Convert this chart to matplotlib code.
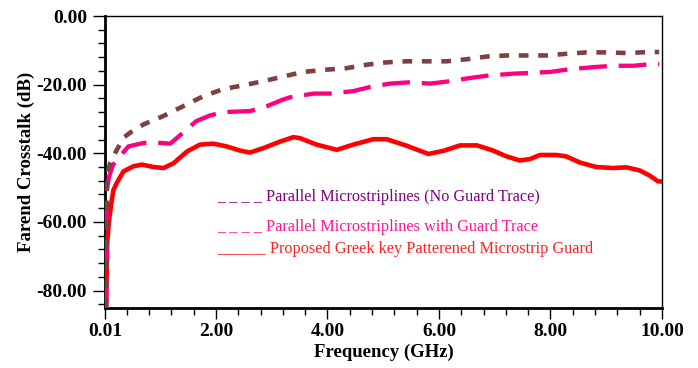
import matplotlib
matplotlib.use("Agg")
import matplotlib.pyplot as plt
from matplotlib.ticker import MultipleLocator, FixedLocator

# ---- data ----
freq_noguard = [0.03, 0.04, 0.045, 0.10, 0.16, 0.34, 0.46, 0.70, 1.05, 1.41, 1.77, 2.13, 2.49, 2.85,
                3.24, 3.57, 3.93, 4.34, 4.70, 5.06, 5.42, 5.78, 6.14, 6.50, 6.86, 7.21, 7.57,
                7.93, 8.29, 8.65, 9.01, 9.37, 9.75, 9.95]
db_noguard = [-85.0, -60.0, -47.0, -43.0, -40.9, -35.5, -34.0, -31.6, -29.2, -26.3, -23.4, -21.3, -20.2, -19.0,
              -17.5, -16.3, -15.7, -15.2, -14.2, -13.5, -13.2, -13.2, -13.2, -12.6, -11.8, -11.5, -11.5,
              -11.5, -11.0, -10.6, -10.6, -10.8, -10.5, -10.5]

freq_guard = [0.03, 0.04, 0.05, 0.08, 0.15, 0.28, 0.43, 0.70, 0.94, 1.18, 1.41, 1.65, 1.89, 2.13,
              2.61, 2.91, 3.21, 3.33, 3.75, 4.04, 4.46, 4.76, 5.12, 5.48, 5.84, 6.20, 6.50, 6.86,
              7.33, 7.63, 7.99, 8.35, 8.77, 9.13, 9.49, 9.81, 9.95]
db_guard = [-85.0, -60.0, -50.0, -47.0, -43.5, -40.9, -38.0, -37.0, -36.9, -37.2, -34.0, -30.6, -29.0, -28.0,
            -27.7, -26.3, -24.3, -23.7, -22.6, -22.6, -21.9, -20.7, -19.7, -19.3, -19.7, -19.0, -18.2, -17.4,
            -16.8, -16.6, -16.3, -15.5, -14.9, -14.5, -14.5, -14.0, -14.0]

freq_greek = [0.03, 0.04, 0.05, 0.08, 0.12, 0.16, 0.22, 0.34, 0.52, 0.67, 0.88, 1.06, 1.24, 1.48, 1.71,
              1.95, 2.19, 2.43, 2.61, 2.85, 3.15, 3.39, 3.51, 3.81, 4.17, 4.46, 4.82, 5.06, 5.42,
              5.81, 6.08, 6.38, 6.68, 6.97, 7.21, 7.45, 7.63, 7.81, 8.11, 8.28, 8.53, 8.82, 9.12,
              9.36, 9.60, 9.78, 9.93, 10.0]
db_greek = [-85.0, -75.0, -66.0, -60.0, -55.0, -50.8, -48.7, -45.3, -43.8, -43.3, -44.0, -44.3, -42.9, -39.5, -37.5,
            -37.2, -38.0, -39.2, -39.8, -38.5, -36.6, -35.3, -35.6, -37.5, -39.0, -37.5, -35.9, -35.9, -37.8,
            -40.2, -39.3, -37.7, -37.7, -39.2, -40.9, -42.1, -41.7, -40.5, -40.5, -40.9, -42.7, -44.0, -44.3,
            -44.1, -45.0, -46.5, -48.2, -48.2]

x_ticks = [0.01, 2.0, 4.0, 6.0, 8.0, 10.0]
x_ticklabels = ["0.01", "2.00", "4.00", "6.00", "8.00", "10.00"]
y_ticks = [0, -20, -40, -60, -80]
y_ticklabels = ["0.00", "-20.00", "-40.00", "-60.00", "-80.00"]

labels = ["Parallel Microstriplines (No Guard Trace)",
          "Parallel Microstriplines with Guard Trace",
          "Proposed Greek key Patterened Microstrip Guard"]

plt.rcParams['font.family'] = ['Liberation Serif', 'DejaVu Serif']
plt.rcParams['lines.scale_dashes'] = False

fig = plt.figure(figsize=(6.98, 3.68), dpi=100)
ax = fig.add_axes([0.1504, 0.1639, 0.7980, 0.7926])

ax.plot(freq_greek, db_greek, color='#FF0000', lw=3.3, solid_capstyle='butt',
        solid_joinstyle='round', zorder=3)
ax.plot(freq_guard, db_guard, color='#FF0080', lw=3.1, dashes=(20, 8.5), dash_capstyle='butt',
        dash_joinstyle='round', zorder=4)
ax.plot(freq_noguard, db_noguard, color='#7F4040', lw=3.3, dashes=(7, 7), dash_capstyle='butt',
        dash_joinstyle='round', zorder=5)

ax.set_xlim(0.01, 10.0)
ax.set_ylim(-85, 0)
ax.xaxis.set_major_locator(FixedLocator(x_ticks))
ax.set_xticklabels(x_ticklabels)
ax.xaxis.set_minor_locator(MultipleLocator(0.4))
ax.yaxis.set_major_locator(FixedLocator(y_ticks))
ax.set_yticklabels(y_ticklabels)
ax.yaxis.set_minor_locator(MultipleLocator(4))

for lab in ax.get_xticklabels() + ax.get_yticklabels():
    lab.set_fontweight('bold')
    lab.set_fontsize(14)

ax.tick_params(axis='y', which='major', direction='out', length=9, width=1, pad=4)
ax.tick_params(axis='y', which='minor', direction='out', length=5, width=1)
ax.tick_params(axis='x', which='major', direction='out', length=8, width=1, pad=3)
ax.tick_params(axis='x', which='minor', direction='out', length=5, width=1)

ax.spines['left'].set_linewidth(2)
ax.spines['bottom'].set_linewidth(2)
ax.spines['top'].set_linewidth(1)
ax.spines['right'].set_linewidth(1)

ax.set_xlabel("Frequency (GHz)", fontsize=13.5, fontweight='bold')
ax.set_ylabel("Farend Crosstalk (dB)", fontsize=13.5, fontweight='bold')
ax.xaxis.set_label_coords(0.5, -0.125)
ax.yaxis.set_label_coords(-0.125, 0.5)

legend_colors = ['#800080', '#FF1493', '#FF2020']
legend_marks = ["_ _ _ _ ", "_ _ _ _ ", "______ "]
legend_y = [0.366, 0.263, 0.1875]
for mk, lab, col, yy in zip(legend_marks, labels, legend_colors, legend_y):
    ax.text(0.201, yy, mk + lab, transform=ax.transAxes, color=col,
            fontsize=11.7, va='baseline', ha='left')

fig.savefig("out.png", dpi=100)
